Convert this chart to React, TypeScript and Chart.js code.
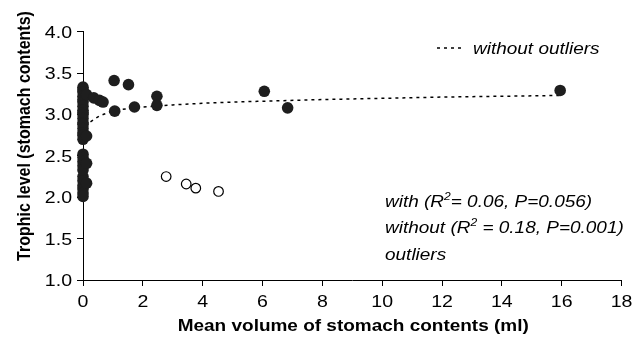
import React, { useEffect, useRef } from "react";
import { Chart, registerables } from "chart.js";

Chart.register(...registerables);

// Filled points (with outliers removed)
const filledX = [
  0, 0, 0, 0, 0, 0, 0, 0, 0, 0, 0, 0, 0, 0, 0, 0, 0,
  0, 0, 0, 0, 0, 0, 0, 0, 0, 0, 0,
  0.12, 0.12, 0.12, 0.12,
  0.36, 0.55, 0.67, 1.04, 1.52, 1.06, 1.72, 2.47, 2.47, 6.06, 6.84, 15.95,
];
const filledY = [
  3.33, 3.3, 3.27, 3.22, 3.18, 3.15, 3.1, 3.05, 3.02, 3.0, 2.95, 2.9, 2.88, 2.83, 2.78, 2.75, 2.7,
  2.52, 2.48, 2.43, 2.38, 2.33, 2.25, 2.2, 2.14, 2.1, 2.05, 2.01,
  3.24, 2.74, 2.41, 2.17,
  3.2, 3.17, 3.15, 3.41, 3.36, 3.04, 3.09, 3.22, 3.11, 3.28, 3.08, 3.29,
];

// Outliers (open circles)
const outlierX = [2.78, 3.45, 3.77, 4.53];
const outlierY = [2.25, 2.16, 2.11, 2.07];

// Fitted curve "without outliers"
const trendX = [0.25, 0.5, 0.75, 1, 1.5, 2, 3, 4, 5, 6, 8, 10, 12, 14, 16];
const trendY = [2.91, 2.97, 3.01, 3.04, 3.07, 3.09, 3.115, 3.135, 3.15, 3.16, 3.18, 3.195, 3.21, 3.22, 3.23];

const xTitle = "Mean volume of stomach contents (ml)";
const yTitle = "Trophic level (stomach contents)";
const legendLabel = "without outliers";

const FONT = '"Liberation Sans", Arial, sans-serif';
const STRETCH = 1.15;

function drawText(
  ctx: CanvasRenderingContext2D,
  text: string,
  x: number,
  y: number,
  font: string,
  align: CanvasTextAlign
): number {
  ctx.save();
  ctx.font = font;
  ctx.textAlign = align;
  ctx.textBaseline = "alphabetic";
  ctx.translate(x, y);
  ctx.scale(STRETCH, 1);
  ctx.fillText(text, 0, 0);
  const w = ctx.measureText(text).width * STRETCH;
  ctx.restore();
  return w;
}

function drawSupLine(
  ctx: CanvasRenderingContext2D,
  parts: { t: string; sup?: boolean }[],
  x: number,
  y: number
) {
  let cx = x;
  for (const p of parts) {
    const font = p.sup ? `italic 10.5px ${FONT}` : `italic 16.5px ${FONT}`;
    const w = drawText(ctx, p.t, cx, p.sup ? y - 7 : y, font, "left");
    cx += w;
  }
}

const textPlugin = {
  id: "textPlugin",
  afterDraw(chart: any) {
    const ctx: CanvasRenderingContext2D = chart.ctx;
    const xs = chart.scales.x;
    const ys = chart.scales.y;
    ctx.save();
    ctx.fillStyle = "#000";

    // tick labels
    xs.ticks.forEach((t: any) => {
      const px = xs.getPixelForValue(t.value);
      drawText(ctx, String(t.value), px, 307, `17px ${FONT}`, "center");
    });
    ys.ticks.forEach((t: any) => {
      const py = ys.getPixelForValue(t.value);
      drawText(ctx, Number(t.value).toFixed(1), 72, py + 6, `17px ${FONT}`, "right");
    });

    // axis titles
    drawText(ctx, xTitle, (xs.left + xs.right) / 2 + 1, 331, `bold 16.5px ${FONT}`, "center");
    ctx.save();
    ctx.font = `bold 16px ${FONT}`;
    ctx.textAlign = "center";
    ctx.textBaseline = "alphabetic";
    ctx.translate(30, 136);
    ctx.scale(STRETCH, 1);
    ctx.rotate(-Math.PI / 2);
    ctx.fillText(yTitle, 0, 0);
    ctx.restore();

    // legend
    ctx.save();
    ctx.strokeStyle = "#000";
    ctx.lineWidth = 1.5;
    ctx.setLineDash([3, 4]);
    ctx.beginPath();
    ctx.moveTo(437, 48);
    ctx.lineTo(464, 48);
    ctx.stroke();
    ctx.restore();
    drawText(ctx, legendLabel, 473, 54, `italic 16.5px ${FONT}`, "left");

    // annotation
    drawSupLine(ctx, [{ t: "with (R" }, { t: "2", sup: true }, { t: "= 0.06, P=0.056)" }], 385, 207);
    drawSupLine(ctx, [{ t: "without (R" }, { t: "2", sup: true }, { t: " = 0.18, P=0.001)" }], 385, 233);
    drawSupLine(ctx, [{ t: "outliers" }], 385, 260);

    ctx.restore();
  },
};

export default function App() {
  const canvasRef = useRef<HTMLCanvasElement | null>(null);

  useEffect(() => {
    if (!canvasRef.current) return;
    const axisGrid = {
      drawOnChartArea: false,
      drawTicks: true,
      tickLength: 6,
      color: "#000",
      lineWidth: 1,
    };
    const chart = new Chart(canvasRef.current, {
      type: "scatter",
      data: {
        datasets: [
          {
            label: "with",
            data: filledX.map((x, i) => ({ x, y: filledY[i] })),
            backgroundColor: "#1e1e1e",
            borderColor: "#1e1e1e",
            borderWidth: 0,
            pointRadius: 5.8,
            clip: false,
          } as any,
          {
            label: "outliers",
            data: outlierX.map((x, i) => ({ x, y: outlierY[i] })),
            backgroundColor: "#fff",
            borderColor: "#000",
            borderWidth: 1.2,
            pointRadius: 4.8,
            clip: false,
          } as any,
          {
            label: legendLabel,
            data: trendX.map((x, i) => ({ x, y: trendY[i] })),
            showLine: true,
            borderColor: "#000",
            borderWidth: 1.5,
            borderDash: [3, 4],
            pointRadius: 0,
            fill: false,
            cubicInterpolationMode: "monotone",
            clip: false,
          } as any,
        ],
      },
      options: {
        animation: false,
        responsive: false,
        devicePixelRatio: 1,
        layout: { padding: { left: 0, right: 20.5, top: 31.7, bottom: 0 } },
        plugins: { legend: { display: false }, tooltip: { enabled: false } },
        scales: {
          x: {
            type: "linear",
            min: 0,
            max: 18,
            ticks: { stepSize: 2, display: false },
            grid: axisGrid,
            border: { color: "#000", width: 1 },
            afterFit: (s: any) => {
              s.height = 59;
            },
          },
          y: {
            type: "linear",
            min: 1,
            max: 4,
            ticks: { stepSize: 0.5, display: false },
            grid: axisGrid,
            border: { color: "#000", width: 1 },
            afterFit: (s: any) => {
              s.width = 83;
            },
          },
        },
      },
      plugins: [textPlugin],
    });
    return () => chart.destroy();
  }, []);

  return (
    <div style={{ position: "fixed", left: 0, top: 0, width: 642, height: 339, background: "#fff" }}>
      <canvas ref={canvasRef} width={642} height={339} style={{ display: "block" }} />
    </div>
  );
}
